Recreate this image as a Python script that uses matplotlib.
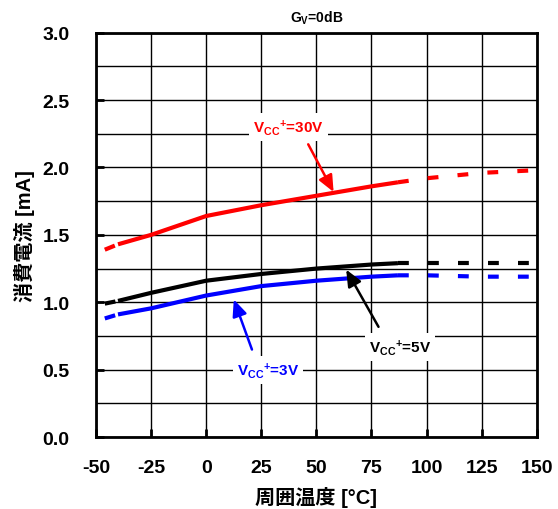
import matplotlib.pyplot as plt

plt.rcParams['font.family'] = ['Liberation Sans', 'Noto Sans CJK JP']
plt.rcParams['font.weight'] = 'bold'
plt.rcParams['axes.unicode_minus'] = False
plt.rcParams['mathtext.fontset'] = 'custom'
plt.rcParams['mathtext.rm'] = 'Liberation Sans:bold'
plt.rcParams['mathtext.bf'] = 'Liberation Sans:bold'
plt.rcParams['mathtext.it'] = 'Liberation Sans:bold'

# data
temp = [-46, -40, -25, 0, 25, 50, 75, 87, 100, 125, 150]
i_30v = [1.39, 1.43, 1.50, 1.64, 1.72, 1.79, 1.86, 1.89, 1.92, 1.96, 1.98]
i_5v = [0.99, 1.01, 1.07, 1.16, 1.21, 1.25, 1.28, 1.29, 1.29, 1.29, 1.29]
i_3v = [0.88, 0.91, 0.955, 1.05, 1.12, 1.16, 1.19, 1.20, 1.20, 1.19, 1.19]
solid = slice(1, 8)
dash_lo = slice(0, 2)
dash_hi = slice(7, 11)

x_ticks = [-50, -25, 0, 25, 50, 75, 100, 125, 150]
y_ticks = [0.0, 0.5, 1.0, 1.5, 2.0, 2.5, 3.0]

fig = plt.figure(figsize=(5.58, 5.10), dpi=100)
ax = fig.add_axes([0.172, 0.141, 0.79, 0.793])

ax.set_xlim(-50, 150)
ax.set_ylim(0, 3.0)
ax.set_xticks(x_ticks)
ax.set_yticks(y_ticks)
ax.set_yticks([0.25 * k for k in range(13)], minor=True)
ax.set_yticklabels([f'{v:.1f}' for v in y_ticks])
ax.grid(True, which='both', color='black', linewidth=1.0)
ax.set_axisbelow(True)
ax.tick_params(axis='both', which='major', direction='in', length=6, width=2,
               labelsize=14)
ax.tick_params(axis='x', pad=16)
ax.tick_params(axis='y', pad=19)
ax.tick_params(axis='both', which='minor', length=0)
for s in ax.spines.values():
    s.set_linewidth(2)

for vals, col in [(i_30v, 'red'), (i_5v, 'black'), (i_3v, 'blue')]:
    ax.plot(temp[solid], vals[solid], color=col, lw=3, solid_capstyle='butt')
    ax.plot(temp[dash_lo], vals[dash_lo], color=col, lw=3, dashes=(2.6, 2.0))
    ax.plot(temp[dash_hi], vals[dash_hi], color=col, lw=3, dashes=(2.6, 4.6),
            dash_capstyle='butt')

box = dict(facecolor='white', edgecolor='none', pad=3)
arw = dict(arrowstyle='-|>,head_length=0.5,head_width=0.22', lw=1.8,
           mutation_scale=20)

ax.text(37.5, 2.30, r'$\mathbf{V_{CC}}^{\mathbf{+}}$=30V', color='red',
        fontsize=11, ha='center', va='center', bbox=box)
ax.annotate('', xy=(58.4, 1.80), xytext=(45.7, 2.19),
            arrowprops=dict(arw, color='red'))

ax.text(88, 0.67, r'$\mathbf{V_{CC}}^{\mathbf{+}}$=5V', color='black',
        fontsize=11, ha='center', va='center', bbox=box)
ax.annotate('', xy=(62.9, 1.26), xytext=(78.8, 0.80),
            arrowprops=dict(arw, color='black'))

ax.text(28, 0.50, r'$\mathbf{V_{CC}}^{\mathbf{+}}$=3V', color='blue',
        fontsize=11, ha='center', va='center', bbox=box)
ax.annotate('', xy=(12.1, 1.04), xytext=(21.2, 0.63),
            arrowprops=dict(arw, color='blue'))

ax.set_title(r'$\mathbf{G_V}$=0dB', fontsize=10, fontweight='bold', pad=8)
ax.set_xlabel('周囲温度 [°C]', fontsize=14.5, fontweight='bold', labelpad=7,
              family=['Liberation Sans', 'Noto Sans CJK JP'])
ax.set_ylabel('消費電流 [mA]', fontsize=14.5, fontweight='bold', labelpad=5,
              family=['Liberation Sans', 'Noto Sans CJK JP'])

fig.savefig('out.png', dpi=100)
